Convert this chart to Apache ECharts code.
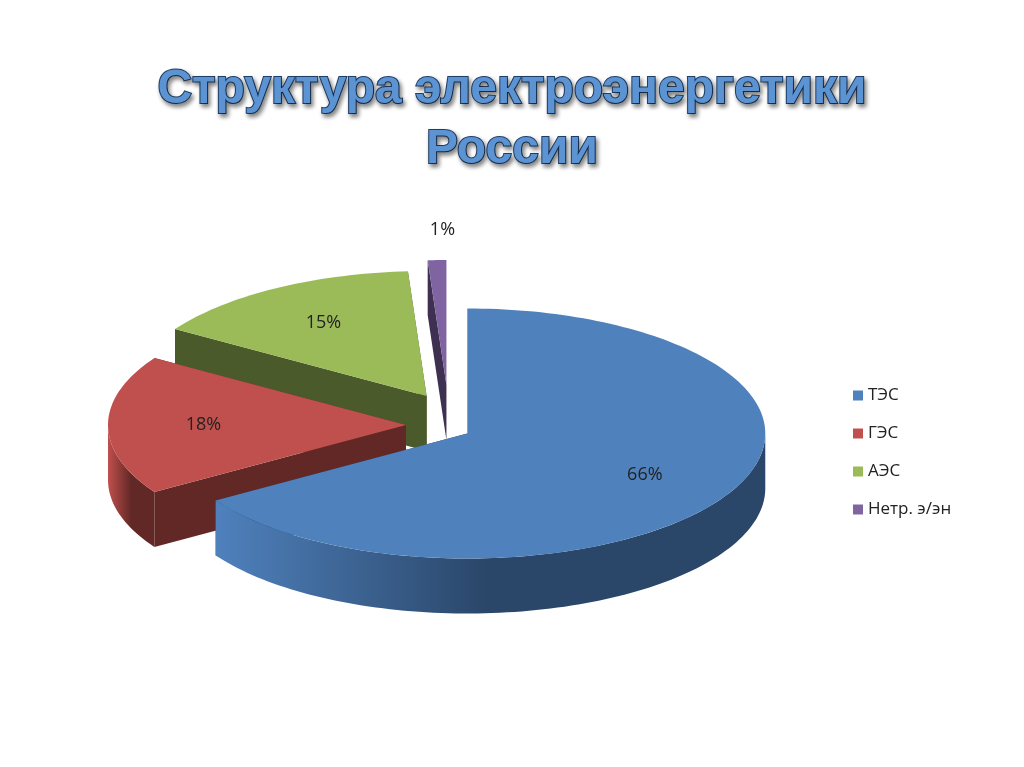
<!DOCTYPE html>
<html>
<head>
<meta charset="utf-8">
<script src="https://cdn.jsdelivr.net/npm/echarts@6/dist/echarts.min.js"></script>
<style>html,body{margin:0;padding:0;background:#fff}#chart{width:1024px;height:767px}</style>
</head>
<body>
<div id="chart"></div>
<script>
// данные
const categories = ['ТЭС', 'ГЭС', 'АЭС', 'Нетр. э/эн'];
const values = [66, 18, 15, 1];
const labels = ['66%', '18%', '15%', '1%'];

const topColors = ['#4f81bd', '#c0504d', '#9bbb59', '#8064a2'];
const sideColors = ['#2a4668', '#622826', '#4b5a2b', '#3e3050'];
const explode = [22, 42, 42, 50];

const cx = 448, cy = 425, rx = 298, ry = 125, depth = 55;
const total = values.reduce((a, b) => a + b, 0);

function pt(x0, y0, a, k, dy) {
    return [x0 + rx * k * Math.sin(a), y0 - ry * k * Math.cos(a) + (dy || 0)];
}

function sliceItem(idx) {
    let start = 0;
    for (let i = 0; i < idx; i++) start += values[i];
    const a0 = start / total * Math.PI * 2;
    const a1 = (start + values[idx]) / total * Math.PI * 2;
    const am = (a0 + a1) / 2;
    const ox = cx + explode[idx] * Math.sin(am);
    const oy = cy - explode[idx] * Math.cos(am) * 0.8;
    const c = [ox, oy], cb = [ox, oy + depth];
    const children = [];
    // радиальные грани
    [a0, a1].forEach(a => {
        children.push({type: 'polygon', z2: 1,
            shape: {points: [c, cb, pt(ox, oy, a, 1, depth), pt(ox, oy, a, 1, 0)]},
            style: {fill: sideColors[idx]}});
    });
    // внешняя стенка (только передняя половина)
    const w0 = Math.max(a0, Math.PI / 2), w1 = Math.min(a1, Math.PI * 1.5);
    if (w1 > w0) {
        const arcT = [], arcB = [];
        const m = Math.ceil((w1 - w0) * 40);
        for (let j = 0; j <= m; j++) {
            const a = w0 + (w1 - w0) * j / m;
            arcT.push(pt(ox, oy, a, 1, 0));
            arcB.push(pt(ox, oy, a, 1, depth));
        }
        children.push({type: 'polygon', z2: 2,
            shape: {points: arcT.concat(arcB.reverse())},
            style: {fill: new echarts.graphic.LinearGradient(1, 0, 0, 0, [
                {offset: 0, color: sideColors[idx]}, {offset: 0.5, color: sideColors[idx]}, {offset: 1, color: topColors[idx]}])}});
    }
    // верх
    const top = [c];
    const n = Math.max(4, Math.ceil((a1 - a0) * 40));
    for (let j = 0; j <= n; j++) top.push(pt(ox, oy, a0 + (a1 - a0) * j / n, 1, 0));
    children.push({type: 'polygon', z2: 3, shape: {points: top}, style: {fill: topColors[idx]}});
    const lp = idx === 3 ? [ox - 4, oy - ry - 30] : pt(ox, oy, am, 0.68, 0);
    children.push({type: 'text', z2: 4, x: lp[0], y: lp[1],
        style: {text: labels[idx], fill: '#222', font: '18px "Open Sans", sans-serif', align: 'center', verticalAlign: 'middle'}});
    return {type: 'group', children: children};
}

const order = [2, 1, 3, 0];
const series = categories.map((name, i) => ({
    name: name,
    type: 'custom',
    coordinateSystem: 'none',
    z: order.indexOf(i) + 1,
    itemStyle: {color: topColors[i]},
    data: [[values[i]]],
    renderItem: () => sliceItem(i)
}));

const chart = echarts.init(document.getElementById('chart'));
chart.setOption({
    animation: false,
    title: {
        text: 'Структура электроэнергетики\nРоссии',
        left: 'center', top: 55,
        textStyle: {
            fontFamily: 'Liberation Sans', fontSize: 48, fontWeight: 'bold', lineHeight: 60,
            color: '#5b93d3', textBorderColor: '#1f3f6a', textBorderWidth: 2,
            textShadowColor: 'rgba(0,0,0,0.45)', textShadowBlur: 4, textShadowOffsetX: 2, textShadowOffsetY: 3
        }
    },
    legend: {
        orient: 'vertical', left: 848, top: 382, itemGap: 21,
        itemWidth: 10, itemHeight: 10, icon: 'rect',
        textStyle: {fontFamily: 'Open Sans', fontSize: 17, color: '#222'},
        data: categories
    },
    series: series
});
</script>
</body>
</html>
